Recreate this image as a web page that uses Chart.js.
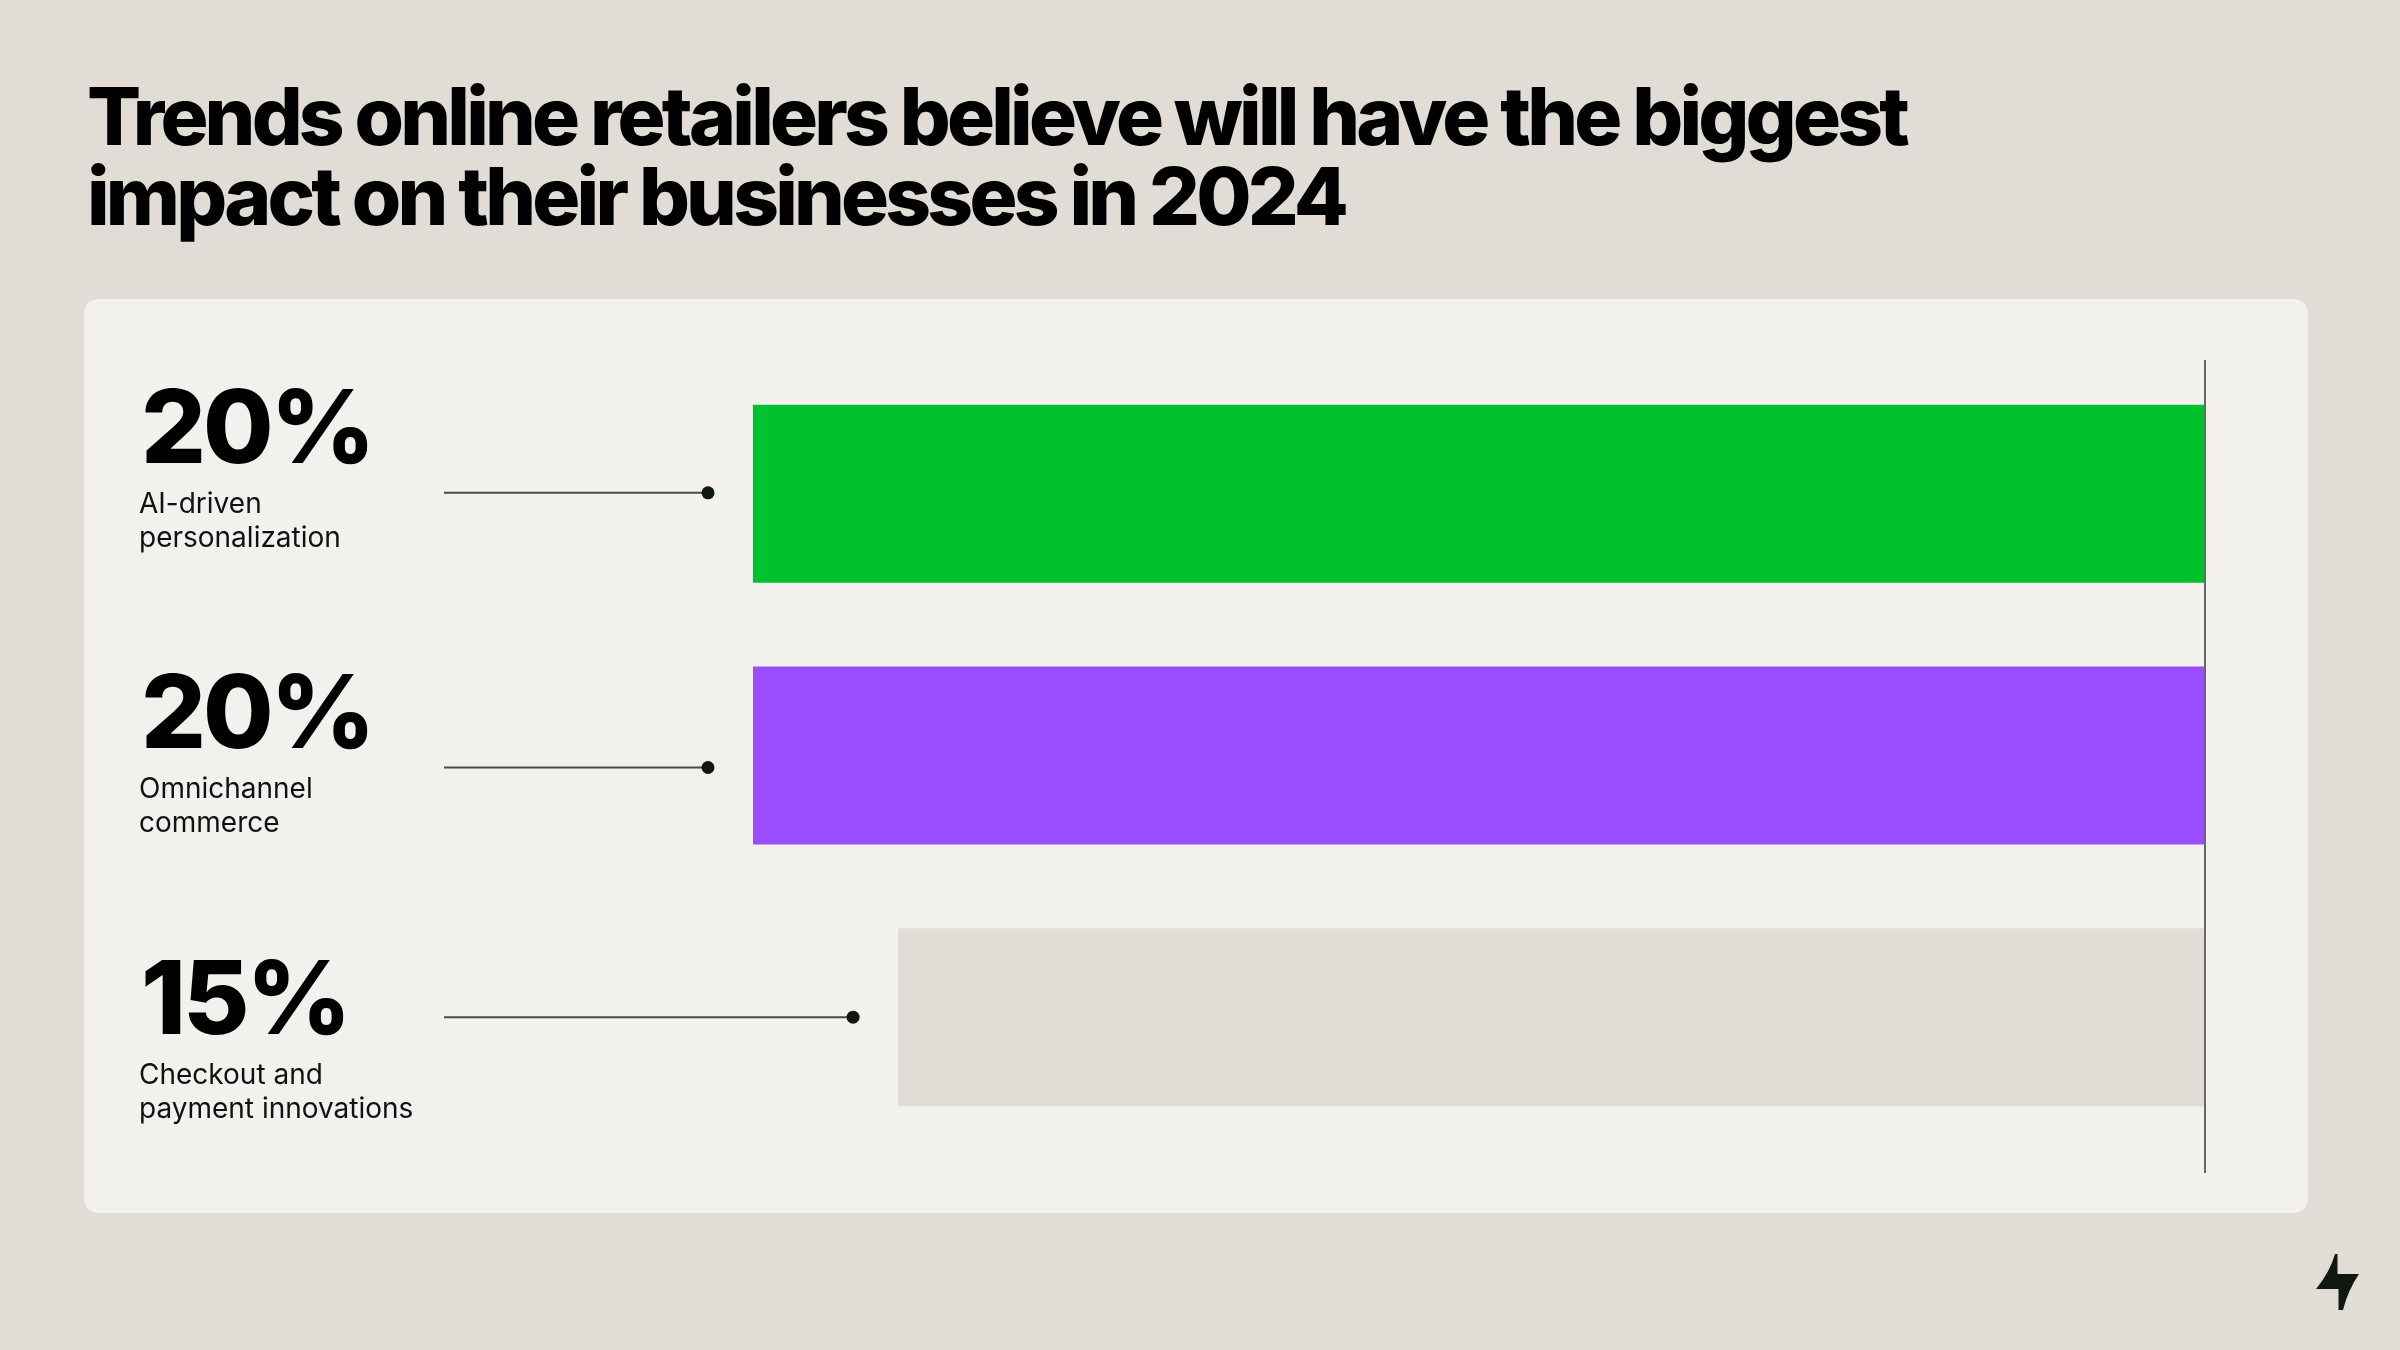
<!DOCTYPE html>
<html>
<head>
<meta charset="utf-8">
<script src="https://cdn.jsdelivr.net/npm/chart.js@4.4.1/dist/chart.umd.min.js"></script>
<style>
  html, body { margin: 0; padding: 0; }
  body { width: 2400px; height: 1350px; background: #e1ddd6; position: relative; overflow: hidden; font-family: Inter, "Noto Sans", sans-serif; }
  #title { position: absolute; left: 87px; top: 76px; margin: 0; font-size: 80px; line-height: 80px; font-weight: 800; color: #000; letter-spacing: -3.8px; white-space: nowrap; }
  #panel { position: absolute; left: 84px; top: 299px; width: 2224px; height: 914px; background: #f2f1ed; border-radius: 14px; }
  #chart { position: absolute; left: 0; top: 0; }
  #logo { position: absolute; left: 0; top: 0; }
</style>
</head>
<body>
<h1 id="title">Trends online retailers believe will have the biggest<br>impact on their businesses in 2024</h1>
<div id="panel"></div>
<canvas id="chart" width="2400" height="1350"></canvas>
<svg id="logo" width="2400" height="1350">
  <path d="M2335 1254 L2337.5 1254 L2337.5 1274 L2359 1274 Q2348 1290 2343 1310 L2338.5 1310 L2338.5 1289 L2316 1289 Q2330 1272 2335 1254 Z" fill="#10190f"/>
</svg>
<script>
// survey share per trend
let trends = ['AI-driven personalization', 'Omnichannel commerce', 'Checkout and payment innovations']
let shares = [20, 20, 15]
let captions = [
    ['AI-driven', 'personalization'],
    ['Omnichannel', 'commerce'],
    ['Checkout and', 'payment innovations'],
]
let barColors = ['#00c22f', '#9a4dff', '#e1ddd6']

// small per-row nudges of the left labels (the design is not perfectly regular)
let numberShift = [-31, -8, 17]
let connectorShift = [-1, 12, 0]

const labelsPlugin = {
    id: 'rowLabels',
    afterDatasetsDraw(chart) {
        const ctx = chart.ctx
        const area = chart.chartArea
        const bars = chart.getDatasetMeta(0).data
        const basePx = bars[0].base

        // right hand baseline
        ctx.save()
        ctx.strokeStyle = '#666a63'
        ctx.lineWidth = 2
        ctx.beginPath()
        ctx.moveTo(basePx + 1, area.top - 3)
        ctx.lineTo(basePx + 1, area.bottom + 25)
        ctx.stroke()

        bars.forEach((bar, i) => {
            const left = Math.min(bar.x, bar.base)
            const cy = bar.y

            // connector with dot
            const ly = cy + connectorShift[i]
            ctx.strokeStyle = '#4a4d47'
            ctx.lineWidth = 2
            ctx.beginPath()
            ctx.moveTo(444, ly)
            ctx.lineTo(left - 45, ly)
            ctx.stroke()
            ctx.fillStyle = '#10190f'
            ctx.beginPath()
            ctx.arc(left - 45, ly, 6.5, 0, Math.PI * 2)
            ctx.fill()

            // big number
            const nb = cy + numberShift[i]
            ctx.fillStyle = '#000'
            ctx.textAlign = 'left'
            ctx.textBaseline = 'alphabetic'
            ctx.font = '800 102px Inter'
            ctx.letterSpacing = '-3px'
            ctx.fillText(shares[i] + '%', 141, nb)

            // caption
            ctx.letterSpacing = '0px'
            ctx.font = '400 28px Inter'
            ctx.fillStyle = '#111'
            captions[i].forEach((line, k) => {
                ctx.fillText(line, 139, nb + 50 + k * 34)
            })
        })
        ctx.restore()
    }
}

const ctx1 = document.getElementById('chart').getContext('2d')
const myChart = new Chart(ctx1, {
    type: 'bar',
    data: {
        labels: trends,
        datasets: [{
            data: shares,
            backgroundColor: barColors,
            base: -30,
            barPercentage: 0.68,
            categoryPercentage: 1,
            borderWidth: 0
        }]
    },
    options: {
        indexAxis: 'y',
        responsive: false,
        animation: false,
        layout: {
            padding: { left: 753, right: 196, top: 363, bottom: 202 }
        },
        plugins: {
            legend: { display: false },
            tooltip: { enabled: false }
        },
        scales: {
            x: {
                type: 'linear',
                reverse: true,
                min: -30,
                max: 20,
                display: false
            },
            y: {
                display: false
            }
        }
    },
    plugins: [labelsPlugin]
})
</script>
</body>
</html>
